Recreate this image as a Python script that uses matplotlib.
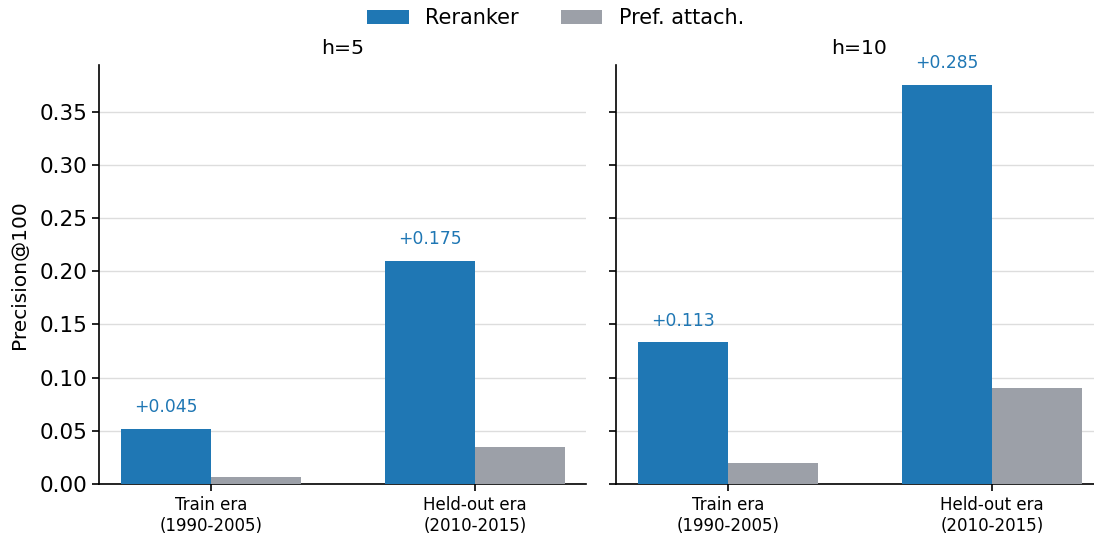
import matplotlib
matplotlib.use("Agg")
import matplotlib.pyplot as plt
import numpy as np

eras = ["Train era\n(1990-2005)", "Held-out era\n(2010-2015)"]
horizons = ["h=5", "h=10"]
reranker = {"h=5": [0.052, 0.210], "h=10": [0.133, 0.375]}
pref_attach = {"h=5": [0.007, 0.035], "h=10": [0.020, 0.090]}

blue = "#1f77b4"
gray = "#9ca0a8"
width = 0.34

plt.rcParams["axes.linewidth"] = 1.2
plt.rcParams["xtick.major.width"] = 1.2
plt.rcParams["ytick.major.width"] = 1.2

fig = plt.figure(figsize=(10.94, 5.33), dpi=100)
ax1 = fig.add_axes([99 / 1094, 1 - 484 / 533, 487 / 1094, 419 / 533])
ax2 = fig.add_axes([616 / 1094, 1 - 484 / 533, 487 / 1094, 419 / 533], sharey=ax1)

x = np.arange(len(eras))
for ax, h in zip([ax1, ax2], horizons):
    r = reranker[h]
    p = pref_attach[h]
    ax.bar(x - width / 2, r, width, color=blue, label="Reranker", zorder=3)
    ax.bar(x + width / 2, p, width, color=gray, label="Pref. attach.", zorder=3)
    for xi, rv, pv in zip(x, r, p):
        ax.text(xi - width / 2, rv + 0.012, f"+{rv - pv:.3f}", ha="center", va="bottom",
                color=blue, fontsize=12.3)
    ax.set_xticks(x)
    ax.set_xticklabels(eras, fontsize=12)
    ax.set_xlim(-0.424, 1.42)
    ax.set_title(h, fontsize=14.7, pad=8)
    ax.grid(axis="y", color="#dddddd", linewidth=1, zorder=0)
    ax.spines["top"].set_visible(False)
    ax.spines["right"].set_visible(False)
    ax.tick_params(axis="y", labelsize=15.5, length=5)
    ax.tick_params(axis="x", length=5)

ax1.set_ylim(0, 0.375 * 1.05)
ax1.set_yticks(np.arange(0, 0.36, 0.05))
ax1.set_ylabel("Precision@100", fontsize=14.5, labelpad=7)
ax2.tick_params(axis="y", labelleft=False)

handles, labels = ax1.get_legend_handles_labels()
fig.legend(handles, labels, loc="upper center", ncol=2, frameon=False, fontsize=15,
           bbox_to_anchor=(0.508, 1.02))

fig.savefig("out.png", dpi=100)
